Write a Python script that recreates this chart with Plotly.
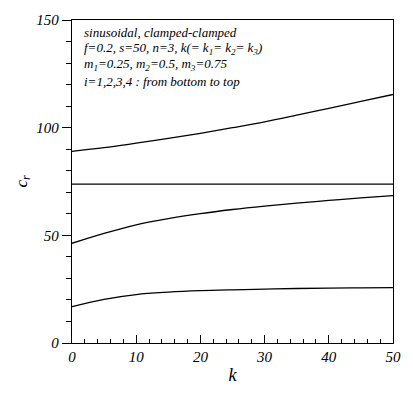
import plotly.graph_objects as go

k_vals = [0, 5, 10, 15, 20, 25, 30, 35, 40, 45, 50]
c1 = [16.9, 20.3, 22.5, 23.6, 24.3, 24.7, 25.0, 25.3, 25.5, 25.6, 25.7]
c2 = [46.3, 50.9, 54.9, 57.8, 60.1, 62.0, 63.6, 65.0, 66.2, 67.4, 68.4]
c3 = [73.8, 73.8, 73.8, 73.8, 73.8, 73.8, 73.8, 73.8, 73.8, 73.8, 73.8]
c4 = [89.0, 90.7, 92.8, 95.0, 97.4, 100.0, 102.7, 105.8, 109.0, 112.2, 115.4]

font_family = "Liberation Serif"

fig = go.Figure()
for ys in [c1, c2, c3, c4]:
    fig.add_trace(go.Scatter(x=k_vals, y=ys, mode="lines", line=dict(color="black", width=1.3, shape="spline"), showlegend=False))

lines = [
    "sinusoidal, clamped-clamped",
    "f=0.2, s=50, n=3, k(= k<sub>1</sub>= k<sub>2</sub>= k<sub>3</sub>)",
    "m<sub>1</sub>=0.25, m<sub>2</sub>=0.5, m<sub>3</sub>=0.75",
    "i=1,2,3,4 : from bottom to top",
]
ypos = [144, 136.6, 129.2, 121.4]
for t, yy in zip(lines, ypos):
    fig.add_annotation(x=1.6, y=yy, text=t, showarrow=False, xanchor="left", yanchor="middle",
                       font=dict(family=font_family, size=13, color="black", style="italic"))

axis_common = dict(showgrid=False, zeroline=False, showline=True, linecolor="black", linewidth=1.3,
                   mirror=True, tickcolor="black", tickwidth=1,
                   tickfont=dict(family=font_family, size=15, color="black", style="italic"))

fig.update_xaxes(range=[0, 50], tickvals=[0, 10, 20, 30, 40, 50], ticks="inside", ticklen=8,
                 minor=dict(dtick=2, ticks="inside", ticklen=4, tickcolor="black"),
                 title=dict(text="k", font=dict(family=font_family, size=18, color="black", style="italic"), standoff=4),
                 **axis_common)
fig.update_yaxes(range=[0, 150], tickvals=[0, 50, 100, 150], ticks="outside", ticklen=9,
                 minor=dict(dtick=10, ticks="outside", ticklen=5, tickcolor="black"),
                 title=dict(text="c<sub>r</sub>", font=dict(family=font_family, size=17, color="black", style="italic"), standoff=4),
                 **axis_common)

fig.update_layout(width=413, height=402, margin=dict(l=72, r=12, t=15, b=59),
                  plot_bgcolor="white", paper_bgcolor="white",
                  font=dict(family=font_family, color="black"))

fig.write_html("out.html")
